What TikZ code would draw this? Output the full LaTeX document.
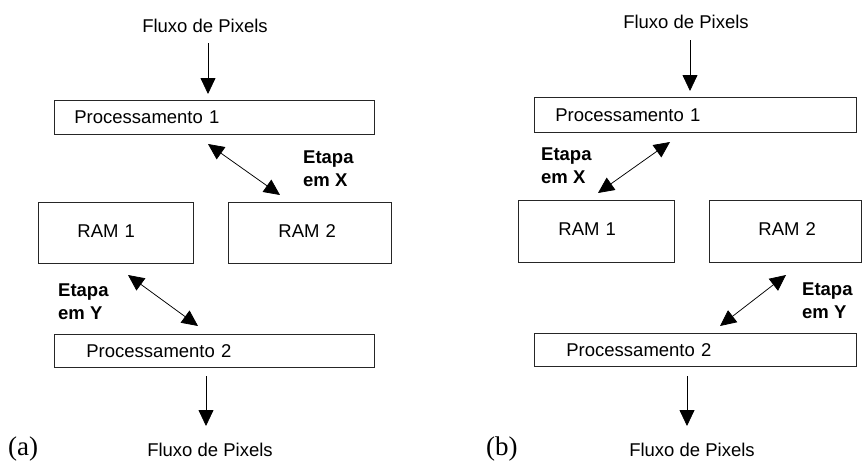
\documentclass[tikz,border=0pt]{standalone}
\usepackage{fontspec}
\setmainfont{Liberation Sans}
\newfontfamily\capfont{Liberation Serif}
\usetikzlibrary{arrows.meta}
\tikzset{
  fs/.style={font=\fontsize{18.5}{22.5}\selectfont},
  blk/.style={draw=black!85, line width=0.8pt, inner ysep=0pt, align=left,
    anchor=north west, fs},
  lbl/.style={fs, inner sep=0pt, anchor=base},
  stage/.style={font=\fontsize{18.5}{22.5}\selectfont\bfseries, inner sep=0pt,
    align=left, anchor=base west},
  subcap/.style={font=\capfont\fontsize{27}{30}\selectfont, inner sep=0pt, anchor=base west},
  arr/.style={-{Triangle[length=16pt,width=15pt]}, line width=0.75pt},
  dbl/.style={{Triangle[length=16pt,width=15pt]}-{Triangle[length=16pt,width=15pt]}, line width=0.75pt}
}
\begin{document}
\begin{tikzpicture}[x=1pt,y=-1pt]
\useasboundingbox (0,0) rectangle (862,466);
% ---------- (a)
\node[lbl] (fa1) at (205,32) {Fluxo de Pixels};
\node[blk, text depth=0pt, inner xsep=20pt, text width=280pt, minimum height=34pt] (ap1) at (54,100) {Processamento 1};
\node[blk, text depth=4pt, inner xsep=39pt, text width=77pt, minimum height=61pt] (ar1) at (38,202) {RAM~1};
\node[blk, text depth=4pt, inner xsep=50pt, text width=63pt, minimum height=61pt] (ar2) at (228,202) {RAM~2};
\node[blk, text depth=0pt, inner xsep=32pt, text width=256pt, minimum height=33pt] (ap2) at (54,334) {Processamento 2};
\node[lbl] (fa2) at (210,456) {Fluxo de Pixels};
\node[stage] (ax) at (303,186) {Etapa\\em X};
\node[stage] (ay) at (58,319) {Etapa\\em Y};
\node[subcap] (ca) at (8,455) {(a)};
\coordinate (a1s) at (208,43);  \coordinate (a1e) at (208,94);
\coordinate (axs) at (208,144); \coordinate (axe) at (280,195);
\coordinate (ays) at (128,275); \coordinate (aye) at (198,326);
\coordinate (a2s) at (206,376); \coordinate (a2e) at (206,426);
\draw[arr] (a1s) -- (a1e);
\draw[dbl] (axs) -- (axe);
\draw[dbl] (ays) -- (aye);
\draw[arr] (a2s) -- (a2e);
% ---------- (b)
\node[lbl] (fb1) at (686,28) {Fluxo de Pixels};
\node[blk, text depth=0pt, inner xsep=21pt, text width=280pt, minimum height=35pt] (bp1) at (534,97) {Processamento 1};
\node[blk, text depth=4pt, inner xsep=40pt, text width=76pt, minimum height=62pt] (br1) at (518,200) {RAM~1};
\node[blk, text depth=4pt, inner xsep=49pt, text width=54pt, minimum height=62pt] (br2) at (709,200) {RAM~2};
\node[blk, text depth=0pt, inner xsep=32pt, text width=258pt, minimum height=33pt] (bp2) at (534,333) {Processamento 2};
\node[lbl] (fb2) at (692,456) {Fluxo de Pixels};
\node[stage] (bx) at (541,183) {Etapa\\em X};
\node[stage] (by) at (802,318) {Etapa\\em Y};
\node[subcap] (cb) at (486,455) {(b)};
\coordinate (b1s) at (690,40);  \coordinate (b1e) at (690,91);
\coordinate (bxs) at (670,142); \coordinate (bxe) at (598,193);
\coordinate (bys) at (786,275); \coordinate (bye) at (720,326);
\coordinate (b2s) at (687,376); \coordinate (b2e) at (687,426);
\draw[arr] (b1s) -- (b1e);
\draw[dbl] (bxs) -- (bxe);
\draw[dbl] (bys) -- (bye);
\draw[arr] (b2s) -- (b2e);
\end{tikzpicture}
\end{document}
